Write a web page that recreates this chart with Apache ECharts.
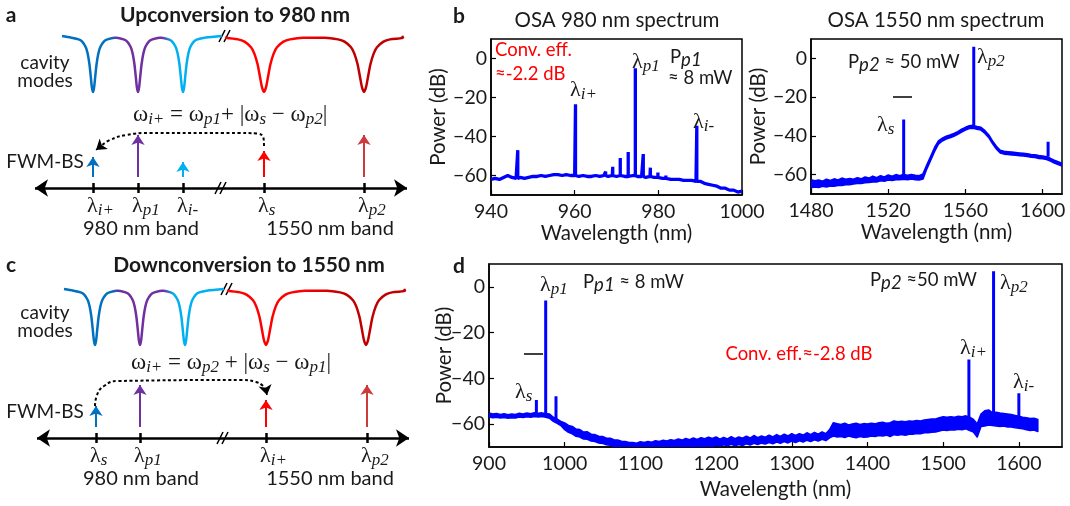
<!DOCTYPE html>
<html><head><meta charset="utf-8">
<script src="https://cdn.jsdelivr.net/npm/echarts@6.0.0/dist/echarts.min.js"></script>
<style>html,body{margin:0;padding:0;background:#fff;}#chart{width:1070px;height:506px;}</style>
</head><body><div id="chart"></div>
<script>
// ================= DATA =================
// (b) OSA 980 nm spectrum: baseline sampled every 1 nm from 940 nm
const osa980Start = 940, osa980Step = 1;
const osa980Base = [
  -62,-61.5,-62,-61,-60,-61,-61.5,-61,-61.5,-61,
  -60.5,-60.5,-60,-60.5,-60,-59.5,-59.5,-60,-59.5,-60,
  -60,-60.5,-60,-60.5,-60.5,-60,-60.5,-60,-60.5,-60,
  -60.5,-60,-60.5,-60.5,-60,-60.5,-60.5,-61,-60.5,-61,
  -61,-61.5,-61.5,-62,-62,-62,-62.5,-62.5,-62.5,-63,
  -63,-64,-64.5,-65,-65.5,-66.5,-66.5,-67.5,-67.5,-68.5,
  -68];
const osa980PeakWl = [946.4, 960.2, 967.4, 969.1, 970.9, 972.8, 974.5, 976.4, 978.1, 979.9, 981.8, 989.2];
const osa980PeakDb = [-47, -23.5, -58, -55.5, -51, -48, -5, -49, -56, -58.5, -60, -34.5];

// (b) OSA 1550 nm spectrum: noise envelope sampled every 2 nm from 1480 nm
const osa1550Start = 1480, osa1550Step = 2;
const osa1550High = [
  -62.6,-63.2,-62.8,-63.4,-62.4,-63,-62.2,-62.8,-61.8,-62.4,
  -62,-62.4,-61.6,-62.2,-61.2,-61.8,-60.8,-61.6,-60.6,-61.2,
  -60.2,-60.8,-60,-60.6,-59.8,-60.4,-60,-60.4,-60.6,-59.6,
  -55,-50.5,-46,-42.6,-41.2,-40.2,-39.6,-38.8,-37.8,-36.6,
  -35.6,-34.8,-34.6,-35.2,-35.6,-37.2,-39.4,-42.6,-45.4,-47.4,
  -48,-48.2,-48.4,-48.6,-48.8,-49,-49.2,-49.6,-49.8,-50.2,
  -50.4,-50.8,-51.6,-52.6,-53.4,-54.2];
const osa1550Low = [
  -66.8,-66.4,-66.6,-66,-66.4,-65.8,-66,-65.6,-65.6,-65.2,
  -65.2,-64.8,-64.6,-64.6,-64.2,-64,-63.8,-63.8,-63.2,-63.4,
  -62.8,-63,-62.6,-62.6,-62.4,-62.6,-62.2,-62.6,-62.8,-62.2,
  -57,-52.5,-48,-44.2,-42.6,-41.6,-41,-40.2,-39.2,-38,
  -37,-36.2,-36,-36.6,-37,-38.6,-40.8,-44,-46.8,-48.8,
  -49.4,-49.6,-49.8,-50,-50.2,-50.4,-50.6,-51,-51.2,-51.6,
  -51.8,-52.2,-53,-54,-54.8,-55.6];
const osa1550PeakWl = [1528, 1564.3, 1602.8];
const osa1550PeakDb = [-31.5, 6, -43];

// (d) full spectrum: noise envelope sampled every 5 nm from 900 nm
const fullStart = 900, fullStep = 5;
const fullHigh = [
  -55.2,-55.6,-55.4,-55.8,-55.5,-55.9,-55.6,-55.8,-55.3,-55.6,
  -55.2,-55.5,-55,-55.3,-55.1,-55.4,-55.6,-57,-57.8,-58.8,
  -59.5,-60.6,-61,-62.2,-62.4,-63.5,-63.4,-64.4,-64.6,-65.3,
  -65.4,-66.2,-66.2,-66.8,-67,-67.5,-67.6,-68,-68.1,-68.4,
  -67.7,-68,-67.6,-67.9,-67.3,-67.6,-67.1,-67.4,-66.8,-67.2,
  -66.5,-67,-66.3,-66.8,-66.1,-66.7,-66,-66.4,-65.7,-66.3,
  -65.6,-66.6,-65.8,-66.5,-65.5,-66.4,-65.6,-66.2,-65.3,-66.1,
  -65,-65.9,-65.2,-65.7,-64.8,-65.6,-64.6,-65.4,-64.4,-65.2,
  -64.2,-65,-64.2,-64.8,-63.8,-64.6,-63.6,-64.4,-63.4,-64.2,
  -62.4,-59.4,-59.8,-60.2,-59.6,-60.4,-60,-59.6,-60.2,-59.8,
  -60,-59.6,-59.9,-59.4,-59.2,-59.6,-59.4,-58.6,-59,-58.8,
  -59,-58.6,-58.8,-58.4,-58.6,-58.2,-58,-57.8,-57.8,-57.2,
  -56.8,-57,-56.8,-57,-56.6,-56.8,-56.4,-57,-58,-60,
  -55.6,-54.2,-53.8,-55,-54.8,-55.2,-55.4,-55.6,-55.8,-56.2,
  -56.6,-57,-57.2,-57.6,-57.4,-58];
const fullLow = [
  -56.8,-57.2,-57,-57.3,-57.1,-57.4,-57.2,-57.3,-56.9,-57.1,
  -56.8,-57,-56.6,-56.9,-56.6,-57,-57.4,-58.8,-59.6,-60.6,
  -62.4,-63.6,-64.2,-65.3,-65.6,-66.5,-66.6,-67.4,-67.6,-68.2,
  -68.4,-69,-69.2,-69.8,-70,-70,-70,-70,-70,-70,
  -70,-70,-70,-70,-69.8,-70,-70,-70,-69.8,-70,
  -70,-70,-70,-70,-69.8,-70,-69.6,-69.9,-69.4,-69.8,
  -69.2,-69.6,-69,-69.5,-68.8,-69.4,-68.9,-69.3,-68.6,-69.1,
  -68.4,-68.9,-68.3,-68.7,-68,-68.6,-67.8,-68.4,-67.6,-68.2,
  -67.4,-68,-67.3,-67.8,-67,-67.6,-66.8,-67.4,-66.6,-67.2,
  -66,-65.2,-65.6,-65.4,-65.8,-65.2,-65.6,-65.9,-65.4,-65.7,
  -65.6,-65.2,-65.4,-65,-65.2,-64.8,-65.4,-64.6,-64.8,-64.5,
  -64.8,-64.4,-64.4,-64.1,-64.2,-63.8,-63.8,-63.5,-63.4,-63,
  -62.6,-62.8,-62.4,-62.6,-62.2,-62.4,-62,-62.8,-63.4,-65.6,
  -61,-60.8,-60.4,-60.6,-60.8,-61,-60.8,-61.2,-61.2,-61.6,
  -61.8,-62,-62.4,-62.8,-62.6,-63.2];
const fullPeakWl = [962.6, 974.9, 988.5, 1534, 1566.6, 1600];
const fullPeakDb = [-49.5, -6, -47.8, -31.8, 6.8, -46.5];

// axis ticks
const ticks980 = [940, 960, 980, 1000];
const ticks1550 = [1480, 1520, 1560, 1600];
const ticksFull = [900, 1000, 1100, 1200, 1300, 1400, 1500, 1600];
const ticksDb = [-60, -40, -20, 0];

// ================= SCHEMATIC LAYOUT (panels a, c; schematic units) =================
const modeCenters = [93, 138, 183, 264, 364];
const modeHwhm = [3.6, 3.6, 3.6, 6.5, 6.5];
const modeDepth = 56;
const dipOffsets   = [-6,-4,-3,-2,-1.5,-1,-0.6,-0.3,0,0.3,0.6,1,1.5,2,3,4,6];
const dipFractions = [0.03,0.06,0.1,0.2,0.31,0.5,0.74,0.92,1,0.92,0.74,0.5,0.31,0.2,0.1,0.06,0.03];
const axisY = 188, axisX0 = 35, axisX1 = 407, arrowBase = 177;
const arrowsA = {x:[93,138,183,264,364], top:[157,135,162,151,135], col:['blue','purple','light','red','dark2']};
const arrowsC = {x:[94,138,264,365], top:[156,135,150,135], col:['blue','purple','red','dark2']};
const dashA = [[264,146],[263.5,138],[257,133.5],[240,133],[150,133],[126,135],[110,140],[101,146]];
const dashHeadA = [[101,146],[96,150]];
const dashC = [[93,156],[95,145],[102,136],[116,131],[240,130],[254,132],[261,136],[264,141]];
const dashHeadC = [[264,140],[265,145]];
const breaksA = [[225,36],[221,188]];
const breaksC = [[225,39],[221,188]];

// ================= BUILD =================
const F = 'Lato, "Open Sans", sans-serif';
const S = '"Liberation Serif", "DejaVu Serif", serif';
const ink = '#1a1a1a';
const BLUE = '#0000ff';
const C = {blue:'#0070c0', purple:'#7030a0', light:'#00b0f0', red:'#ff0000', dark:'#c00000', dark2:'#cc3a3a'};

function range(start, step, n) { const a = []; for (let i = 0; i < n; i++) a.push(start + step * i); return a; }
function nearest(wl, w) { let j = 0, best = Infinity; wl.forEach((x, i) => { const d = Math.abs(x - w); if (d < best) { best = d; j = i; } }); return j; }
function spectrum(wl, db, pw, pd) {
  const pts = wl.map((w, i) => [w, db[i]]);
  pw.forEach((w, k) => { const b = db[nearest(wl, w)]; pts.push([w, b], [w, pd[k]], [w, b]); });
  pts.sort((a, b) => a[0] - b[0]);
  return pts;
}
function spikes(wl, base, pw, pd) {
  const pts = [];
  pw.forEach((w, k) => { const b = base[nearest(wl, w)]; pts.push([w, b], [w, pd[k]], [w, b], [w, null]); });
  return pts;
}

const minus = v => String(v).replace('-', '\u2212');
const noop = {show: false};
function xAx(gi, min, max, ticks, gap) {
  return {gridIndex: gi, type: 'value', min, max,
    axisLine: {show: true, onZero: false, lineStyle: {color: '#000', width: 1.5}},
    axisTick: {show: true, inside: true, length: 5, customValues: ticks, lineStyle: {color: '#000', width: 1.2}},
    axisLabel: {customValues: ticks, color: ink, fontFamily: F, fontSize: 19.5, margin: 7, formatter: v => String(v)},
    splitLine: noop,
    name: 'Wavelength (nm)', nameLocation: 'middle', nameGap: gap, nameMoveOverlap: false,
    nameTextStyle: {color: ink, fontFamily: F, fontSize: 20.5}};
}
function yAx(gi, gap) {
  return {gridIndex: gi, type: 'value', min: -70, max: 10,
    axisLine: {show: true, onZero: false, lineStyle: {color: '#000', width: 1.5}},
    axisTick: {show: true, inside: true, length: 5, customValues: ticksDb, lineStyle: {color: '#000', width: 1.2}},
    axisLabel: {customValues: ticksDb, color: ink, fontFamily: F, fontSize: 19.5, margin: 4, formatter: minus},
    splitLine: noop,
    name: 'Power (dB)', nameLocation: 'middle', nameGap: gap, nameMoveOverlap: false,
    nameTextStyle: {color: ink, fontFamily: F, fontSize: 20.5}};
}
const hidX = gi => ({gridIndex: gi, type: 'value', min: 0, max: 430, show: false});
const hidY = gi => ({gridIndex: gi, type: 'value', min: 0, max: 250, inverse: true, show: false});

const series = [];
function lineS(gi, pts, w) {
  series.push({type: 'line', xAxisIndex: gi, yAxisIndex: gi, data: pts, symbol: 'none', showSymbol: false,
    connectNulls: false, lineStyle: {color: BLUE, width: w}, silent: true, clip: true, z: 4});
}
function bandS(gi, wl, low, high) {
  series.push({type: 'custom', xAxisIndex: gi, yAxisIndex: gi, silent: true, z: 3, clip: true,
    data: [[wl[0], low[0]]],
    renderItem: (params, api) => {
      const up = wl.map((w, i) => api.coord([w, high[i]]));
      const dn = wl.map((w, i) => api.coord([w, low[i]])).reverse();
      return {type: 'polygon', shape: {points: up.concat(dn)}, style: {fill: BLUE, stroke: BLUE, lineWidth: 1.6, lineJoin: 'round'}};
    }});
}
// (b) left
lineS(0, spectrum(range(osa980Start, osa980Step, osa980Base.length), osa980Base, osa980PeakWl, osa980PeakDb), 3.3);
// (b) right
const wl1550 = range(osa1550Start, osa1550Step, osa1550High.length);
bandS(1, wl1550, osa1550Low, osa1550High);
lineS(1, spikes(wl1550, osa1550High, osa1550PeakWl, osa1550PeakDb), 3);
// (d)
const wlFull = range(fullStart, fullStep, fullHigh.length);
bandS(2, wlFull, fullLow, fullHigh);
lineS(2, spikes(wlFull, fullHigh, fullPeakWl, fullPeakDb), 3);

function dipPoints(i, top) {
  return dipOffsets.map((u, k) => [modeCenters[i] + u * modeHwhm[i], top + modeDepth * dipFractions[k]]);
}
function addSchematic(gi, top, arrows, dash, dashHead, breaks) {
  const base = {xAxisIndex: gi, yAxisIndex: gi, silent: true};
  const gradL = new echarts.graphic.LinearGradient(0, 0, 1, 0, [
    {offset: 0, color: C.blue}, {offset: 0.3, color: C.blue}, {offset: 0.36, color: C.purple},
    {offset: 0.62, color: C.purple}, {offset: 0.68, color: C.light}, {offset: 1, color: C.light}]);
  const gradR = new echarts.graphic.LinearGradient(0, 0, 1, 0, [
    {offset: 0, color: C.red}, {offset: 0.42, color: C.red}, {offset: 0.64, color: C.dark}, {offset: 1, color: C.dark}]);
  const left = [[62, top]].concat(dipPoints(0, top), dipPoints(1, top), dipPoints(2, top), [[222, top]]);
  const right = dipPoints(3, top).concat(dipPoints(4, top), [[402, top]]);
  series.push({...base, type: 'line', data: left, smooth: 0.3, symbol: 'none', lineStyle: {width: 2.5, color: gradL}});
  series.push({...base, type: 'line', data: right, smooth: 0.3, symbol: 'none', lineStyle: {width: 2.5, color: gradR}});
  series.push({...base, type: 'lines', coordinateSystem: 'cartesian2d',
    data: [{coords: [[axisX0, axisY], [axisX1, axisY]]}], symbol: ['arrow', 'arrow'], symbolSize: 13,
    lineStyle: {color: '#000', width: 2.5, opacity: 1}});
  series.push({...base, type: 'lines', coordinateSystem: 'cartesian2d',
    data: arrows.x.map(x => ({coords: [[x, axisY - 5], [x, axisY + 5]]})), symbol: 'none',
    lineStyle: {color: '#000', width: 2.5, opacity: 1}});
  arrows.x.forEach((x, i) => series.push({...base, type: 'lines', coordinateSystem: 'cartesian2d',
    data: [{coords: [[x, arrowBase], [x, arrows.top[i]]]}], symbol: ['none', 'arrow'], symbolSize: 10,
    lineStyle: {color: C[arrows.col[i]], width: 2, opacity: 1}}));
  series.push({...base, type: 'line', data: dash, smooth: 0.5, symbol: 'none',
    lineStyle: {color: '#000', width: 2, type: [3, 2.5]}});
  series.push({...base, type: 'lines', coordinateSystem: 'cartesian2d', data: [{coords: dashHead}],
    symbol: ['none', 'arrow'], symbolSize: 10, lineStyle: {color: '#000', width: 1.5, opacity: 1}});
  series.push({...base, type: 'lines', coordinateSystem: 'cartesian2d',
    data: breaks.flatMap(([bx, by]) => [{coords: [[bx - 6, by + 6], [bx, by - 6]]}, {coords: [[bx - 1, by + 6], [bx + 5, by - 6]]}]),
    symbol: 'none', lineStyle: {color: '#000', width: 1.6, opacity: 1}});
}
addSchematic(3, 36, arrowsA, dashA, dashHeadA, breaksA);
addSchematic(4, 39, arrowsC, dashC, dashHeadC, breaksC);

// ================= TEXT =================
const RS = {
  m: {fontFamily: S, fontSize: 22, fill: ink},
  s: {fontFamily: S, fontSize: 17, fontStyle: 'italic', fill: ink, padding: [10, 0, 0, 0]},
  e: {fontFamily: S, fontSize: 23, fill: ink},
  es: {fontFamily: S, fontSize: 17, fontStyle: 'italic', fill: ink, padding: [9, 0, 0, 0]},
  n: {fontFamily: F, fontSize: 18.5, fill: ink},
  ni: {fontFamily: F, fontSize: 18.5, fontStyle: 'italic', fill: ink, padding: [6, 0, 0, 0]}
};
function T(x, y, text, st) {
  return {type: 'text', x, y, silent: true, z: 10,
    style: Object.assign({text, fill: ink, font: '19px ' + F, textAlign: 'left', textVerticalAlign: 'middle', rich: RS}, st || {})};
}
const lam = sub => `{m|λ}{s|${sub}}`;
const red = {fill: '#ff0000', font: '18.5px ' + F};
const graphic = [
  // panel letters & titles
  T(11, 15, 'a', {font: 'bold 21px ' + F, textAlign: 'center'}),
  T(235, 15, 'Upconversion to 980 nm', {font: 'bold 21px ' + F, textAlign: 'center'}),
  T(11, 265, 'c', {font: 'bold 21px ' + F, textAlign: 'center'}),
  T(249, 265, 'Downconversion to 1550 nm', {font: 'bold 21px ' + F, textAlign: 'center'}),
  T(459, 16, 'b', {font: 'bold 21px ' + F, textAlign: 'center'}),
  T(459, 266, 'd', {font: 'bold 21px ' + F, textAlign: 'center'}),
  T(617, 20, 'OSA 980 nm spectrum', {font: '20.5px ' + F, textAlign: 'center'}),
  T(936, 20, 'OSA 1550 nm spectrum', {font: '20.5px ' + F, textAlign: 'center'}),
  // panel a
  T(45, 63, 'cavity', {textAlign: 'center'}), T(45, 81, 'modes', {textAlign: 'center'}),
  T(133, 115, '{e|ω}{es|i+}{e| = ω}{es|p1}{e|+ |ω}{es|s}{e| − ω}{es|p2}{e||}'),
  T(45, 162, 'FWM-BS', {textAlign: 'center'}),
  T(87, 206, lam('i+')), T(132, 206, lam('p1')), T(177, 206, lam('i-')), T(258, 206, lam('s')), T(358, 206, lam('p2')),
  T(141, 229, '980 nm band', {textAlign: 'center', font: '20px ' + F}),
  T(330, 229, '1550 nm band', {textAlign: 'center', font: '20px ' + F}),
  // panel c
  T(45, 313, 'cavity', {textAlign: 'center'}), T(45, 331, 'modes', {textAlign: 'center'}),
  T(131, 363, '{e|ω}{es|i+}{e| = ω}{es|p2}{e| + |ω}{es|s}{e| − ω}{es|p1}{e||}'),
  T(45, 412, 'FWM-BS', {textAlign: 'center'}),
  T(90, 456, lam('s')), T(134, 456, lam('p1')), T(260, 456, lam('i+')), T(361, 456, lam('p2')),
  T(141, 479, '980 nm band', {textAlign: 'center', font: '20px ' + F}),
  T(330, 479, '1550 nm band', {textAlign: 'center', font: '20px ' + F}),
  // panel b left
  T(495, 50, 'Conv. eff.', red), T(495, 74, '≈-2.2 dB', red),
  T(570, 90, lam('i+')), T(632, 62, lam('p1')), T(693, 122, lam('i-')),
  T(670, 57, '{n|P}{ni|p1}'), T(668, 78, '≈ 8 mW', {font: '18.5px ' + F}),
  // panel b right
  T(848, 62, '{n|P}{ni|p2}{n| ≈ 50 mW}'), T(977, 57, lam('p2')), T(877, 125, lam('s')),
  {type: 'line', silent: true, shape: {x1: 893, y1: 97, x2: 912, y2: 97}, style: {stroke: '#000', lineWidth: 1.5}},
  // panel d
  T(540, 285, lam('p1')), T(583, 282, '{n|P}{ni|p1}{n| ≈ 8 mW}'), T(515, 392, lam('s')),
  {type: 'line', silent: true, shape: {x1: 524, y1: 354, x2: 543, y2: 354}, style: {stroke: '#000', lineWidth: 1.5}},
  T(799, 354, 'Conv. eff.≈-2.8 dB', Object.assign({textAlign: 'center'}, red)),
  T(870, 280, '{n|P}{ni|p2}{n| ≈50 mW}'), T(1000, 283, lam('p2')), T(960, 348, lam('i+')), T(1013, 382, lam('i-'))
];

const gridBox = {show: true, borderColor: '#000', borderWidth: 1.5, backgroundColor: 'transparent', outerBoundsMode: 'none', containLabel: false};
const option = {
  animation: false,
  backgroundColor: '#fff',
  grid: [
    Object.assign({left: 491, top: 39, width: 251, height: 156}, gridBox),
    Object.assign({left: 811, top: 39, width: 251, height: 155}, gridBox),
    Object.assign({left: 489, top: 264, width: 573, height: 183}, gridBox),
    {left: 0, top: 0, width: 430, height: 250, show: false, outerBoundsMode: 'none'},
    {left: 2, top: 250, width: 430, height: 250, show: false, outerBoundsMode: 'none'}
  ],
  xAxis: [xAx(0, 940, 1000, ticks980, 28), xAx(1, 1480, 1610, ticks1550, 28), xAx(2, 900, 1657, ticksFull, 32), hidX(3), hidX(4)],
  yAxis: [yAx(0, 42), yAx(1, 42), yAx(2, 34), hidY(3), hidY(4)],
  series,
  graphic
};
const chart = echarts.init(document.getElementById('chart'), null, {renderer: 'canvas'});
chart.setOption(option);
</script></body></html>
